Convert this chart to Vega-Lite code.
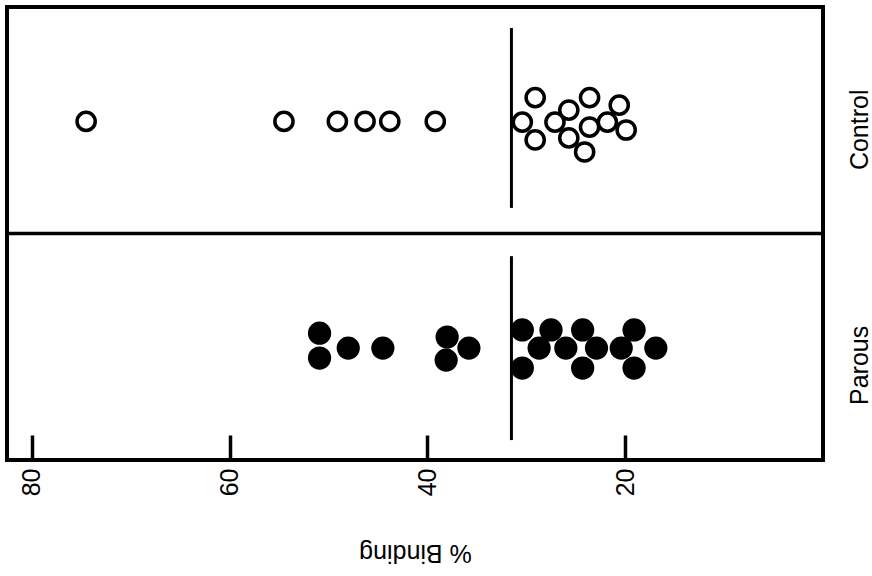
{
  "$schema": "https://vega.github.io/schema/vega-lite/v6.json",
  "width": 816,
  "height": 453,
  "padding": {"left": 7, "top": 7, "right": 49, "bottom": 116},
  "autosize": {"type": "none"},
  "background": "white",
  "config": {
    "view": {"stroke": "black", "strokeWidth": 4},
    "axis": {"grid": false, "labelFont": "Liberation Sans", "titleFont": "Liberation Sans", "labelColor": "black", "titleColor": "black"}
  },
  "datasets": {
    "points": [
      {"group": "Control", "binding": 74.5, "lane": 14.95},
      {"group": "Control", "binding": 54.5, "lane": 14.95},
      {"group": "Control", "binding": 49.1, "lane": 14.95},
      {"group": "Control", "binding": 46.3, "lane": 14.95},
      {"group": "Control", "binding": 43.8, "lane": 14.95},
      {"group": "Control", "binding": 39.2, "lane": 14.95},
      {"group": "Control", "binding": 29.1, "lane": 16.0},
      {"group": "Control", "binding": 30.4, "lane": 14.92},
      {"group": "Control", "binding": 29.1, "lane": 14.13},
      {"group": "Control", "binding": 27.1, "lane": 14.92},
      {"group": "Control", "binding": 25.7, "lane": 15.45},
      {"group": "Control", "binding": 25.7, "lane": 14.22},
      {"group": "Control", "binding": 23.6, "lane": 16.0},
      {"group": "Control", "binding": 23.6, "lane": 14.7},
      {"group": "Control", "binding": 24.1, "lane": 13.6},
      {"group": "Control", "binding": 21.8, "lane": 14.92},
      {"group": "Control", "binding": 20.6, "lane": 15.67},
      {"group": "Control", "binding": 19.9, "lane": 14.57},
      {"group": "Parous", "binding": 50.9, "lane": 5.6},
      {"group": "Parous", "binding": 50.9, "lane": 4.5},
      {"group": "Parous", "binding": 48.0, "lane": 4.94},
      {"group": "Parous", "binding": 44.5, "lane": 4.94},
      {"group": "Parous", "binding": 38.0, "lane": 5.43},
      {"group": "Parous", "binding": 38.1, "lane": 4.41},
      {"group": "Parous", "binding": 35.8, "lane": 4.94},
      {"group": "Parous", "binding": 30.4, "lane": 5.74},
      {"group": "Parous", "binding": 30.4, "lane": 4.06},
      {"group": "Parous", "binding": 27.5, "lane": 5.74},
      {"group": "Parous", "binding": 28.7, "lane": 4.94},
      {"group": "Parous", "binding": 26.0, "lane": 4.94},
      {"group": "Parous", "binding": 24.3, "lane": 5.74},
      {"group": "Parous", "binding": 24.3, "lane": 4.06},
      {"group": "Parous", "binding": 22.9, "lane": 4.94},
      {"group": "Parous", "binding": 20.4, "lane": 4.94},
      {"group": "Parous", "binding": 19.1, "lane": 5.74},
      {"group": "Parous", "binding": 19.1, "lane": 4.06},
      {"group": "Parous", "binding": 16.9, "lane": 4.94}
    ],
    "medians": [
      {"group": "Control", "binding": 31.5, "lane": 19.07, "lane2": 11.13},
      {"group": "Parous", "binding": 31.5, "lane": 9.0, "lane2": 0.88}
    ],
    "divider": [
      {"lane": 10}
    ]
  },
  "layer": [
    {
      "data": {"name": "divider"},
      "mark": {"type": "rule", "color": "black", "strokeWidth": 3.5},
      "encoding": {
        "y": {
          "field": "lane", "type": "quantitative",
          "scale": {"domain": [0, 20], "nice": false, "zero": false},
          "axis": {
            "orient": "right", "values": [14.6, 4.2],
            "labelExpr": "datum.value > 10 ? 'Control' : 'Parous'",
            "labelAngle": 270, "labelFontSize": 25, "ticks": false, "domain": false,
            "labelPadding": 24, "title": null
          }
        }
      }
    },
    {
      "data": {"name": "medians"},
      "mark": {"type": "rule", "color": "black", "strokeWidth": 3},
      "encoding": {
        "x": {"field": "binding", "type": "quantitative"},
        "y": {"field": "lane", "type": "quantitative"},
        "y2": {"field": "lane2"}
      }
    },
    {
      "data": {"name": "points"},
      "transform": [{"filter": "datum.group === 'Control'"}],
      "mark": {"type": "point", "shape": "circle", "filled": false, "stroke": "black", "strokeWidth": 3.5, "size": 330, "opacity": 1},
      "encoding": {
        "x": {
          "field": "binding", "type": "quantitative",
          "scale": {"domain": [0, 82.5], "reverse": true, "nice": false, "zero": false},
          "title": "% Binding",
          "axis": {
            "values": [20, 40, 60, 80],
            "tickSize": -25, "tickWidth": 3.5, "tickColor": "black",
            "domain": false,
            "labelAngle": 270, "labelFontSize": 25, "labelPadding": 33,
            "titleAngle": 180, "titleBaseline": "bottom", "titleFontSize": 25, "titleFontWeight": "normal", "titlePadding": 44
          }
        },
        "y": {"field": "lane", "type": "quantitative"}
      }
    },
    {
      "data": {"name": "points"},
      "transform": [{"filter": "datum.group === 'Parous'"}],
      "mark": {"type": "point", "shape": "circle", "filled": true, "color": "black", "size": 540, "opacity": 1},
      "encoding": {
        "x": {"field": "binding", "type": "quantitative"},
        "y": {"field": "lane", "type": "quantitative"}
      }
    }
  ]
}
